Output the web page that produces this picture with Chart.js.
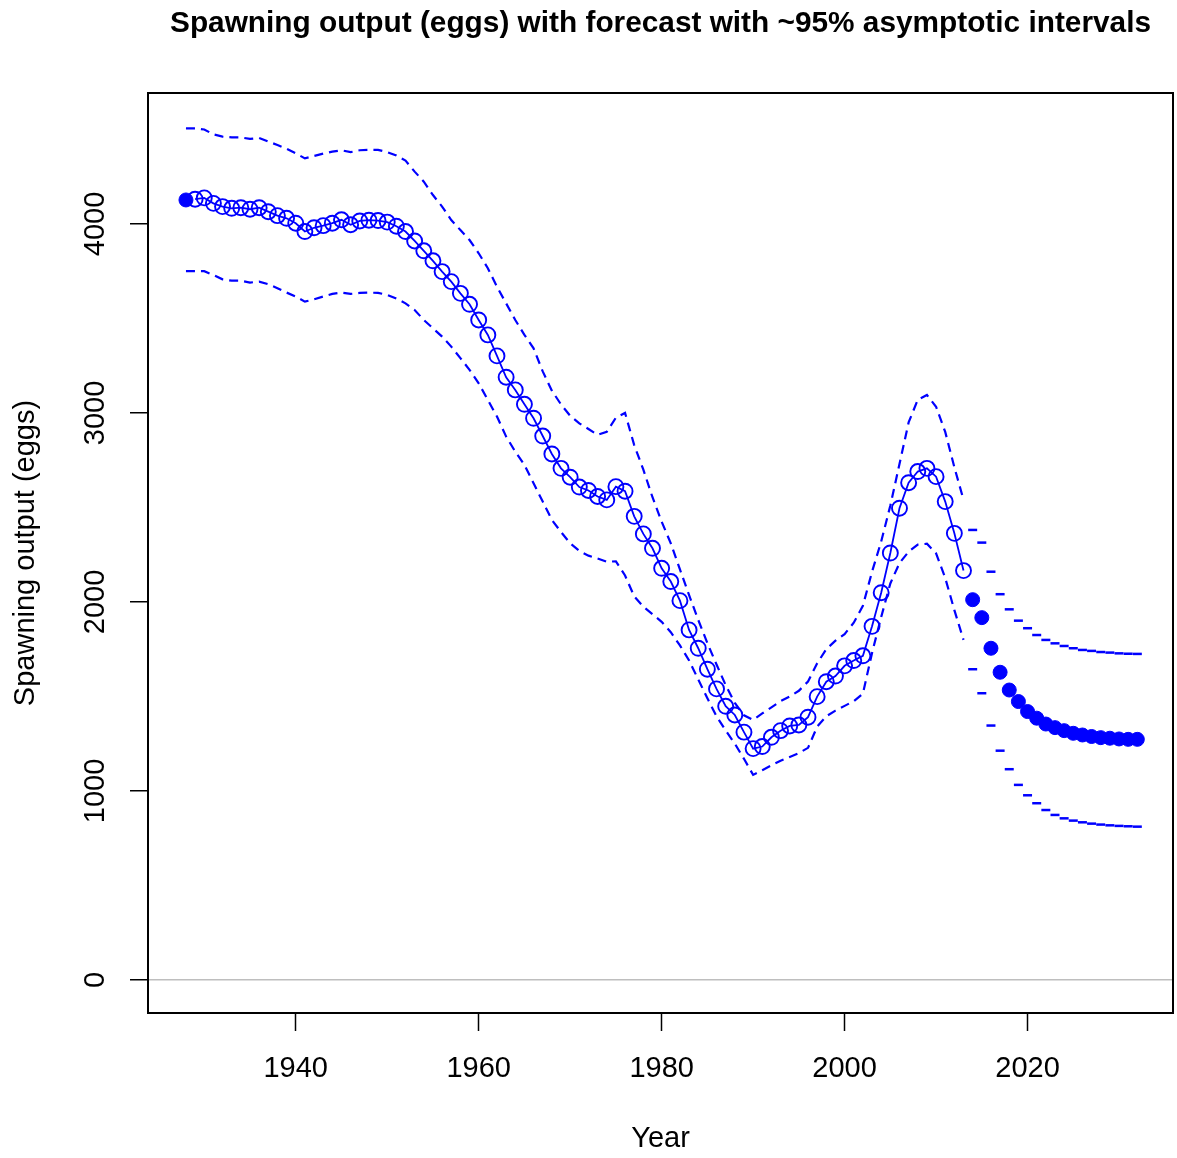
<!DOCTYPE html>
<html>
<head>
<meta charset="utf-8">
<title>Spawning output (eggs) with forecast</title>
<script src="https://cdn.jsdelivr.net/npm/chart.js@4.4.1/dist/chart.umd.min.js"></script>
<style>
  html, body { margin: 0; padding: 0; background: #ffffff; }
  canvas { display: block; }
</style>
</head>
<body>
<canvas id="chart" width="1177" height="1158"></canvas>
<script>
// Unfished / initial spawning output (filled marker)
const virginYear = [1928];
const virginOutput = [4127];

// Estimated spawning output, model years
const spawnYears = [
  1929, 1930, 1931, 1932, 1933, 1934, 1935, 1936, 1937, 1938,
  1939, 1940, 1941, 1942, 1943, 1944, 1945, 1946, 1947, 1948,
  1949, 1950, 1951, 1952, 1953, 1954, 1955, 1956, 1957, 1958,
  1959, 1960, 1961, 1962, 1963, 1964, 1965, 1966, 1967, 1968,
  1969, 1970, 1971, 1972, 1973, 1974, 1975, 1976, 1977, 1978,
  1979, 1980, 1981, 1982, 1983, 1984, 1985, 1986, 1987, 1988,
  1989, 1990, 1991, 1992, 1993, 1994, 1995, 1996, 1997, 1998,
  1999, 2000, 2001, 2002, 2003, 2004, 2005, 2006, 2007, 2008,
  2009, 2010, 2011, 2012, 2013
];
const spawnOutput = [
  4131, 4138, 4109, 4092, 4083, 4086, 4078, 4086, 4065, 4044,
  4030, 4004, 3960, 3980, 3991, 4004, 4022, 3996, 4016, 4020,
  4018, 4010, 3988, 3960, 3910, 3858, 3805, 3748, 3695, 3633,
  3575, 3492, 3413, 3302, 3189, 3122, 3046, 2972, 2878, 2783,
  2707, 2660, 2608, 2590, 2558, 2540, 2610, 2586, 2453, 2360,
  2284, 2178, 2108, 2007, 1852, 1755, 1644, 1540, 1448, 1402,
  1311, 1224, 1235, 1284, 1319, 1344, 1349, 1390, 1499, 1578,
  1608, 1662, 1690, 1715, 1871, 2049, 2259, 2496, 2631, 2690,
  2707, 2663, 2531, 2363, 2166
];

// ~95% asymptotic interval, model years (dashed lines)
const intervalYears = [
  1928, 1929, 1930, 1931, 1932, 1933, 1934, 1935, 1936, 1937,
  1938, 1939, 1940, 1941, 1942, 1943, 1944, 1945, 1946, 1947,
  1948, 1949, 1950, 1951, 1952, 1953, 1954, 1955, 1956, 1957,
  1958, 1959, 1960, 1961, 1962, 1963, 1964, 1965, 1966, 1967,
  1968, 1969, 1970, 1971, 1972, 1973, 1974, 1975, 1976, 1977,
  1978, 1979, 1980, 1981, 1982, 1983, 1984, 1985, 1986, 1987,
  1988, 1989, 1990, 1991, 1992, 1993, 1994, 1995, 1996, 1997,
  1998, 1999, 2000, 2001, 2002, 2003, 2004, 2005, 2006, 2007,
  2008, 2009, 2010, 2011, 2012, 2013
];
const upper95 = [
  4506, 4506, 4500, 4474, 4462, 4458, 4458, 4450, 4455, 4436,
  4418, 4398, 4374, 4347, 4360, 4372, 4383, 4390, 4380, 4390,
  4392, 4392, 4380, 4362, 4335, 4277, 4224, 4153, 4092, 4021,
  3968, 3915, 3845, 3766, 3668, 3580, 3492, 3413, 3342, 3220,
  3118, 3045, 2985, 2945, 2915, 2884, 2900, 2975, 3000, 2830,
  2700, 2554, 2425, 2310, 2172, 2036, 1905, 1782, 1669, 1560,
  1466, 1400, 1376, 1410, 1442, 1475, 1500, 1530, 1579, 1675,
  1750, 1795, 1830, 1890, 1980, 2160, 2320, 2510, 2730, 2950,
  3070, 3095, 3033, 2900, 2713, 2540
];
const lower95 = [
  3751, 3751, 3750, 3730, 3707, 3700, 3700, 3690, 3695, 3681,
  3660, 3637, 3616, 3589, 3601, 3616, 3630, 3637, 3630, 3635,
  3637, 3635, 3625, 3605, 3580, 3545, 3492, 3448, 3404, 3351,
  3290, 3228, 3157, 3069, 2981, 2875, 2795, 2725, 2628, 2531,
  2434, 2370, 2310, 2270, 2245, 2230, 2213, 2215, 2140, 2030,
  1975, 1935, 1895, 1840, 1770, 1690, 1590, 1490, 1395, 1320,
  1250, 1170, 1085, 1110, 1135, 1160, 1180, 1200, 1228, 1340,
  1395, 1425, 1450, 1475, 1515, 1730, 1920, 2098, 2206, 2266,
  2303, 2308, 2257, 2127, 1957, 1799
];

// Forecast years: spawning output and interval bounds
const forecastYears = [
  2014, 2015, 2016, 2017, 2018, 2019, 2020, 2021, 2022, 2023,
  2024, 2025, 2026, 2027, 2028, 2029, 2030, 2031, 2032
];
const forecastOutput = [
  2012, 1917, 1755, 1628, 1534, 1473, 1420, 1385, 1354, 1335,
  1319, 1305, 1296, 1288, 1282, 1279, 1275, 1273, 1273
];
const forecastUpper = [
  2381, 2314, 2160, 2041, 1961, 1901, 1861, 1825, 1799, 1781,
  1767, 1755, 1746, 1741, 1735, 1732, 1728, 1726, 1725
];
const forecastLower = [
  1644, 1517, 1346, 1213, 1115, 1032, 977, 935, 899, 873,
  855, 843, 834, 827, 822, 818, 815, 813, 811
];

// Axis ticks
const xTickValues = [1940, 1960, 1980, 2000, 2020];
const yTickValues = [0, 1000, 2000, 3000, 4000];

const FONT = "'Liberation Sans', Arial, Helvetica, sans-serif";
const BLUE = '#0000ff';
const asPoints = (xs, ys) => xs.map((x, i) => ({ x: x, y: ys[i] }));

// Black box around the plotting region
const frameBox = {
  id: 'frameBox',
  afterDraw(chart) {
    const a = chart.chartArea;
    const ctx = chart.ctx;
    ctx.save();
    ctx.strokeStyle = '#000';
    ctx.lineWidth = 2;
    ctx.strokeRect(a.left, a.top, a.right - a.left, a.bottom - a.top);
    ctx.restore();
  }
};

new Chart(document.getElementById('chart'), {
  type: 'line',
  data: {
    datasets: [
      {
        label: 'Upper ~95%',
        data: asPoints(intervalYears, upper95),
        borderColor: BLUE, borderWidth: 2.2, borderDash: [9, 6],
        pointRadius: 0, fill: false, tension: 0
      },
      {
        label: 'Lower ~95%',
        data: asPoints(intervalYears, lower95),
        borderColor: BLUE, borderWidth: 2.2, borderDash: [9, 6],
        pointRadius: 0, fill: false, tension: 0
      },
      {
        label: 'Spawning output',
        data: asPoints(spawnYears, spawnOutput),
        borderColor: BLUE, borderWidth: 1.8, tension: 0, fill: false,
        pointStyle: 'circle', pointRadius: 7.5, pointBorderWidth: 1.9,
        pointBorderColor: BLUE, pointBackgroundColor: 'rgba(0,0,0,0)'
      },
      {
        label: 'Unfished',
        data: asPoints(virginYear, virginOutput),
        showLine: false, pointStyle: 'circle', pointRadius: 7,
        pointBorderWidth: 1, pointBorderColor: BLUE, pointBackgroundColor: BLUE
      },
      {
        label: 'Forecast',
        data: asPoints(forecastYears, forecastOutput),
        showLine: false, pointStyle: 'circle', pointRadius: 7,
        pointBorderWidth: 1, pointBorderColor: BLUE, pointBackgroundColor: BLUE
      },
      {
        label: 'Forecast upper',
        data: asPoints(forecastYears, forecastUpper),
        showLine: false, pointStyle: 'line', pointRadius: 4.5,
        pointBorderWidth: 2.5, pointBorderColor: BLUE
      },
      {
        label: 'Forecast lower',
        data: asPoints(forecastYears, forecastLower),
        showLine: false, pointStyle: 'line', pointRadius: 4.5,
        pointBorderWidth: 2.5, pointBorderColor: BLUE
      }
    ]
  },
  options: {
    responsive: false,
    animation: false,
    devicePixelRatio: 1,
    layout: { autoPadding: false, padding: { left: 0, right: 4, top: 0, bottom: 0 } },
    plugins: {
      legend: { display: false },
      tooltip: { enabled: false },
      title: {
        display: true,
        fullSize: false,
        text: 'Spawning output (eggs) with forecast with ~95% asymptotic intervals',
        color: '#000',
        font: { family: FONT, size: 29.8, weight: 'bold', lineHeight: 1.2 },
        padding: { top: 6, bottom: 51.24 }
      }
    },
    scales: {
      x: {
        type: 'linear',
        min: 1923.85,
        max: 2035.9,
        afterFit(scale) {
          scale.height = 145;
          scale.paddingLeft = 0;
          scale.paddingRight = 0;
        },
        afterBuildTicks(scale) { scale.ticks = xTickValues.map(v => ({ value: v })); },
        grid: {
          drawOnChartArea: false, drawTicks: true, tickLength: 18,
          tickColor: '#000', tickWidth: 1.5
        },
        border: { display: true, color: '#000', width: 2 },
        ticks: {
          callback: v => String(v),
          color: '#000', font: { family: FONT, size: 29, lineHeight: 1.2 },
          padding: 21, maxRotation: 0, minRotation: 0, autoSkip: false
        },
        title: {
          display: true, text: 'Year', color: '#000',
          font: { family: FONT, size: 29, lineHeight: 1.2 },
          padding: { top: 0, bottom: 1.5 }
        }
      },
      y: {
        type: 'linear',
        min: -175,
        max: 4693,
        afterFit(scale) {
          scale.width = 148;
          scale.paddingTop = 0;
          scale.paddingBottom = 0;
        },
        afterBuildTicks(scale) { scale.ticks = yTickValues.map(v => ({ value: v })); },
        grid: {
          color: ctx => (ctx.tick && ctx.tick.value === 0) ? '#bebebe' : 'rgba(0,0,0,0)',
          lineWidth: 1.5, drawTicks: true, tickLength: 18,
          tickColor: '#000', tickWidth: 1.5
        },
        border: { display: true, color: '#000', width: 2 },
        ticks: {
          callback: v => String(v),
          color: '#000', font: { family: FONT, size: 29, lineHeight: 1.2 },
          minRotation: 90, maxRotation: 90, crossAlign: 'center',
          padding: 2, autoSkip: false
        },
        title: {
          display: true, text: 'Spawning output (eggs)', color: '#000',
          font: { family: FONT, size: 29, lineHeight: 1.2 },
          padding: { top: 9, bottom: 0 }
        }
      }
    }
  },
  plugins: [frameBox]
});
</script>
</body>
</html>
